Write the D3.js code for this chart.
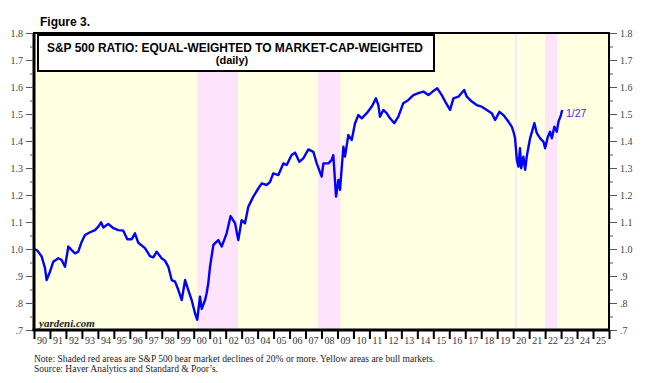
<!DOCTYPE html>
<html><head><meta charset="utf-8">
<script src="https://cdn.jsdelivr.net/npm/d3@7/dist/d3.min.js"></script>
<style>body{margin:0;background:#fff}svg{display:block}</style>
</head><body>
<svg id="c" width="646" height="383"></svg>
<script>
const dates = [1990.00,1990.20,1990.48,1990.69,1990.79,1991.00,1991.21,1991.52,1991.73,1991.94,1992.15,1992.36,1992.57,1992.77,1992.99,1993.19,1993.51,1993.82,1994.03,1994.20,1994.34,1994.65,1994.97,1995.28,1995.59,1995.84,1996.12,1996.32,1996.53,1996.95,1997.26,1997.47,1997.68,1997.99,1998.20,1998.41,1998.62,1998.83,1999.04,1999.25,1999.46,1999.66,1999.87,2000.08,2000.22,2000.39,2000.50,2000.71,2000.81,2000.91,2001.02,2001.23,2001.54,2001.75,2002.06,2002.31,2002.59,2002.79,2003.00,2003.21,2003.42,2003.73,2004.05,2004.26,2004.57,2004.78,2004.98,2005.30,2005.61,2005.82,2006.13,2006.34,2006.61,2006.86,2007.18,2007.49,2007.70,2008.01,2008.12,2008.43,2008.64,2008.74,2008.91,2009.06,2009.16,2009.37,2009.47,2009.68,2009.89,2010.10,2010.31,2010.52,2010.83,2011.14,2011.41,2011.56,2011.66,2011.87,2012.08,2012.29,2012.56,2012.81,2013.12,2013.44,2013.75,2014.06,2014.38,2014.69,2014.96,2015.25,2015.53,2015.80,2016.05,2016.26,2016.57,2016.93,2017.10,2017.41,2017.72,2018.03,2018.35,2018.66,2018.87,2019.14,2019.39,2019.70,2019.91,2020.02,2020.12,2020.23,2020.33,2020.43,2020.50,2020.64,2020.75,2020.85,2020.96,2021.06,2021.21,2021.33,2021.48,2021.69,2021.90,2022.00,2022.17,2022.31,2022.42,2022.58,2022.73,2022.84,2022.99,2023.07];
const values = [1.000,0.995,0.972,0.929,0.885,0.916,0.953,0.966,0.959,0.934,1.009,0.996,0.984,0.990,1.027,1.052,1.062,1.070,1.083,1.099,1.080,1.093,1.077,1.070,1.068,1.036,1.036,1.058,1.023,1.003,0.974,0.969,0.990,0.966,0.957,0.934,0.885,0.879,0.848,0.811,0.885,0.848,0.811,0.762,0.738,0.823,0.778,0.811,0.836,0.873,0.934,1.015,1.033,1.009,1.058,1.122,1.095,1.033,1.107,1.095,1.157,1.194,1.225,1.243,1.237,1.249,1.280,1.274,1.317,1.311,1.348,1.357,1.323,1.336,1.369,1.360,1.317,1.268,1.317,1.317,1.330,1.348,1.194,1.256,1.219,1.379,1.342,1.422,1.404,1.466,1.496,1.484,1.503,1.527,1.558,1.533,1.490,1.515,1.503,1.484,1.466,1.490,1.540,1.552,1.570,1.577,1.583,1.570,1.583,1.595,1.570,1.540,1.515,1.558,1.564,1.589,1.564,1.546,1.533,1.527,1.515,1.503,1.478,1.508,1.496,1.472,1.453,1.434,1.410,1.330,1.305,1.373,1.299,1.342,1.293,1.342,1.379,1.410,1.441,1.466,1.429,1.410,1.397,1.373,1.416,1.434,1.410,1.453,1.434,1.472,1.496,1.515];
const bearStarts = [2000.23, 2007.77, 2020.13, 2022.00];
const bearEnds   = [2002.77, 2009.19, 2020.23, 2022.78];
const yTicks = [0.7,0.8,0.9,1.0,1.1,1.2,1.3,1.4,1.5,1.6,1.7,1.8];
const yTickLabels = [".7",".8",".9","1.0","1.1","1.2","1.3","1.4","1.5","1.6","1.7","1.8"];
const yearLabels = ["90","91","92","93","94","95","96","97","98","99","00","01","02","03","04","05","06","07","08","09","10","11","12","13","14","15","16","17","18","19","20","21","22","23","24","25"];

const svg = d3.select("#c");
const L = 34, R = 609, T = 33, B = 330;
const x = d3.scaleLinear().domain([1990, 2026]).range([L, R]);
const y = d3.scaleLinear().domain([0.7, 1.8]).range([B, T]);

// background
svg.append("rect").attr("x", L).attr("y", T).attr("width", R - L).attr("height", B - T).attr("fill", "#ffffe1");
svg.selectAll("rect.bear").data(bearStarts).enter().append("rect")
  .attr("x", d => x(d)).attr("y", T)
  .attr("width", (d, i) => x(bearEnds[i]) - x(d)).attr("height", B - T)
  .attr("fill", "#fde4fc");

// line
const pts = dates.map((d, i) => [d, values[i]]);
svg.append("path").datum(pts)
  .attr("d", d3.line().x(d => x(d[0])).y(d => y(d[1])))
  .attr("fill", "none").attr("stroke", "#0000ff").attr("stroke-width", 2.4).attr("stroke-linejoin", "round");

// title box
svg.append("rect").attr("x", 38).attr("y", 35).attr("width", 396).attr("height", 36)
  .attr("fill", "#fff").attr("stroke", "#000").attr("stroke-width", 2);
svg.append("text").attr("x", 47).attr("y", 51.5)
  .attr("textLength", 376).attr("lengthAdjust", "spacingAndGlyphs")
  .attr("font-family", "Arial, 'Liberation Sans', sans-serif").attr("font-weight", "bold").attr("font-size", 12.4)
  .text("S&P 500 RATIO: EQUAL-WEIGHTED TO MARKET-CAP-WEIGHTED");
svg.append("text").attr("x", 232).attr("y", 64).attr("text-anchor", "middle")
  .attr("font-family", "Arial, 'Liberation Sans', sans-serif").attr("font-weight", "bold").attr("font-size", 11)
  .text("(daily)");

// frame
svg.append("line").attr("x1", L - 1).attr("x2", R + 1).attr("y1", T).attr("y2", T).attr("stroke", "#000").attr("stroke-width", 2);
svg.append("line").attr("x1", L).attr("x2", L).attr("y1", T).attr("y2", B).attr("stroke", "#000").attr("stroke-width", 3);
svg.append("line").attr("x1", R).attr("x2", R).attr("y1", T).attr("y2", B).attr("stroke", "#000").attr("stroke-width", 2);

// y axes
const yMinor = d3.range(0.75, 1.8, 0.1);
const axisFont = "'Liberation Serif', 'Times New Roman', serif";
const leftAxis = d3.axisLeft(y).tickValues(yTicks).tickSize(7).tickPadding(3).tickFormat((d, i) => yTickLabels[i]);
const gl = svg.append("g").attr("transform", `translate(${L - 1},0)`).call(leftAxis);
const rightAxis = d3.axisRight(y).tickValues(yTicks).tickSize(7).tickPadding(3).tickFormat((d, i) => yTickLabels[i]);
const gr = svg.append("g").attr("transform", `translate(${R + 1},0)`).call(rightAxis);
[gl, gr].forEach(g => {
  g.select(".domain").remove();
  g.selectAll("line").attr("stroke", "#555");
  g.selectAll("text").attr("font-family", axisFont).attr("font-size", 10).attr("fill", "#444");
});
svg.append("g").attr("transform", `translate(${L - 1},0)`).call(d3.axisLeft(y).tickValues(yMinor).tickSize(3).tickFormat(""))
  .call(g => { g.select(".domain").remove(); g.selectAll("line").attr("stroke", "#555"); });
svg.append("g").attr("transform", `translate(${R + 1},0)`).call(d3.axisRight(y).tickValues(yMinor).tickSize(3).tickFormat(""))
  .call(g => { g.select(".domain").remove(); g.selectAll("line").attr("stroke", "#555"); });

// x axis
svg.append("line").attr("x1", L - 1.5).attr("x2", R + 1).attr("y1", B).attr("y2", B).attr("stroke", "#000").attr("stroke-width", 3);
const gx = svg.append("g").attr("transform", `translate(0,${B})`)
  .call(d3.axisBottom(x).tickValues(d3.range(1990, 2027)).tickSize(9).tickFormat(""));
gx.select(".domain").remove();
gx.selectAll("line").attr("stroke", "#000").attr("stroke-width", 2);
svg.append("g").selectAll("text").data(yearLabels).enter().append("text")
  .attr("x", (d, i) => x(1990 + i + 0.5)).attr("y", 343.5).attr("text-anchor", "middle")
  .attr("font-family", axisFont).attr("font-size", 10).attr("fill", "#333").text(d => d);

// annotations
svg.append("text").attr("x", 40).attr("y", 26).attr("font-family", "Arial, 'Liberation Sans', sans-serif")
  .attr("font-weight", "bold").attr("font-size", 12).text("Figure 3.");
svg.append("text").attr("x", 39).attr("y", 327).attr("font-family", axisFont).attr("font-style", "italic")
  .attr("font-weight", "bold").attr("font-size", 11).attr("fill", "#222").text("yardeni.com");
svg.append("text").attr("x", 566).attr("y", 117).attr("font-family", "Arial, 'Liberation Sans', sans-serif")
  .attr("font-size", 10.5).attr("fill", "#3333ee").text("1/27");
svg.append("text").attr("x", 34).attr("y", 362).attr("font-family", axisFont).attr("font-size", 9.6).attr("fill", "#222")
  .attr("textLength", 401).attr("lengthAdjust", "spacingAndGlyphs")
  .text("Note: Shaded red areas are S&P 500 bear market declines of 20% or more. Yellow areas are bull markets.");
svg.append("text").attr("x", 34).attr("y", 371.5).attr("font-family", axisFont).attr("font-size", 9.6).attr("fill", "#222")
  .attr("textLength", 184).attr("lengthAdjust", "spacingAndGlyphs")
  .text("Source: Haver Analytics and Standard & Poor’s.");
</script>
</body></html>
